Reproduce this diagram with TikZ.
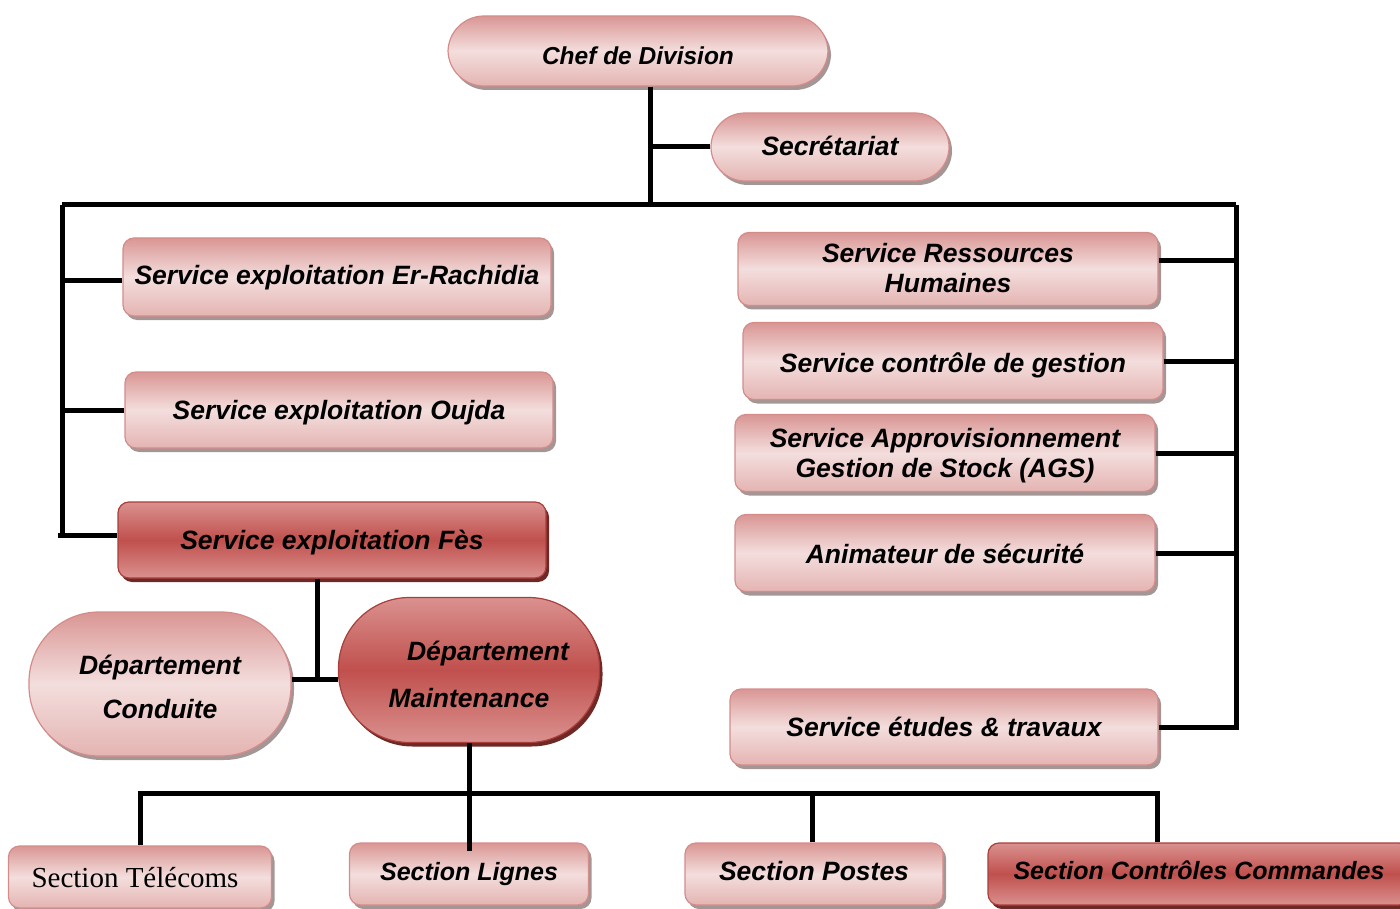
\documentclass[tikz,border=0pt]{standalone}
\usepackage{fontspec}
\setmainfont{Liberation Sans}
\newfontfamily\timesfont{Liberation Serif}
\usetikzlibrary{shadows}

\definecolor{pinkEdge}{RGB}{217,150,148}
\definecolor{pinkLow}{RGB}{228,180,178}
\definecolor{pinkLight}{RGB}{243,222,221}
\definecolor{pinkLine}{RGB}{212,140,138}
\definecolor{redEdge}{RGB}{218,145,143}
\definecolor{redMid}{RGB}{192,80,77}
\definecolor{redLine}{RGB}{170,62,59}
\definecolor{shadowGray}{RGB}{165,150,150}
\definecolor{shadowRed}{RGB}{110,40,38}

% box label: lines centred, last baseline lowered #1 below the box centre
\newcommand\boxtext[2]{\raisebox{-#1}[0pt][0pt]{\begin{tabular}[b]{@{}c@{}}#2\end{tabular}}}

\tikzset{
  basebox/.style={line width=1.2pt, rounded corners=11pt, inner sep=0pt,
    font=\fontsize{26.5}{30}\selectfont\bfseries\itshape},
  lightbox/.style={basebox, draw=pinkLine,
    top color=pinkEdge, bottom color=pinkLow, middle color=pinkLight,
    drop shadow={shadow xshift=3pt, shadow yshift=-4pt, fill=shadowGray, opacity=1}},
  darkbox/.style={basebox, draw=redLine,
    top color=redEdge, bottom color=redEdge, middle color=redMid,
    drop shadow={shadow xshift=3pt, shadow yshift=-4pt, fill=shadowRed, opacity=1}},
  link/.style={line width=5pt, draw=black},
  sectionfont/.style={font=\fontsize{25}{30}\selectfont\bfseries\itshape}
}

\begin{document}
\begin{tikzpicture}[x=1pt,y=-1pt]
\useasboundingbox (0,0) rectangle (1400,909);

% head of the division
\node[lightbox, font=\fontsize{24.5}{30}\selectfont\bfseries\itshape,
  rounded corners=36pt, minimum width=380pt, minimum height=70pt]
  (chef) at (638,51) {\boxtext{14pt}{Chef de Division}};
\node[lightbox, rounded corners=34pt, minimum width=238pt, minimum height=68pt]
  (secr) at (830,147) {\boxtext{9pt}{Secrétariat}};

% operating services (left)
\node[lightbox, minimum width=428pt, minimum height=78pt]
  (erra) at (337,277) {\boxtext{8pt}{Service exploitation Er-Rachidia}};
\node[lightbox, minimum width=428pt, minimum height=76pt]
  (oujda) at (339,410) {\boxtext{9pt}{Service exploitation Oujda}};
\node[darkbox, minimum width=428pt, minimum height=76pt]
  (fes) at (332,540) {\boxtext{9pt}{Service exploitation Fès}};

% support services (right)
\node[lightbox, minimum width=420pt, minimum height=73pt]
  (rh) at (948,269) {\boxtext{24pt}{Service Ressources\\Humaines}};
\node[lightbox, minimum width=420pt, minimum height=77pt]
  (ctrl) at (953,361) {\boxtext{11pt}{Service contrôle de gestion}};
\node[lightbox, minimum width=420pt, minimum height=77pt]
  (ags) at (945,453) {\boxtext{24pt}{Service Approvisionnement\\Gestion de Stock (AGS)}};
\node[lightbox, minimum width=420pt, minimum height=77pt]
  (anim) at (945,553) {\boxtext{10pt}{Animateur de sécurité}};
\node[lightbox, minimum width=428pt, minimum height=76pt]
  (etud) at (944,727) {\boxtext{9pt}{Service études \& travaux}};

% departments under Fès
\node[lightbox, font=\fontsize{26.5}{44}\selectfont\bfseries\itshape,
  rounded corners=70pt, minimum width=262pt, minimum height=144pt]
  (cond) at (160,684) {\boxtext{34pt}{Département\\Conduite}};
\node[darkbox, font=\fontsize{26.5}{46.5}\selectfont\bfseries\itshape,
  rounded corners=71pt, minimum width=261pt, minimum height=145pt]
  (maint) at (469,670) {\boxtext{37pt}{\hspace*{38pt}Département\\Maintenance}};

% sections
\node[lightbox, font=\fontsize{29}{32}\selectfont\timesfont,
  minimum width=263pt, minimum height=62pt]
  (tel) at (140,877) {\boxtext{10pt}{\hspace*{-10pt}Section Télécoms}};
\node[lightbox, sectionfont, minimum width=239pt, minimum height=62pt]
  (lignes) at (469,874) {\boxtext{6pt}{Section Lignes}};
\node[lightbox, font=\fontsize{26.5}{30}\selectfont\bfseries\itshape,
  minimum width=258pt, minimum height=62pt]
  (postes) at (814,874) {\boxtext{6pt}{Section Postes}};
\node[darkbox, sectionfont, minimum width=422pt, minimum height=62pt]
  (cc) at (1199,874) {\boxtext{5pt}{Section Contrôles Commandes}};

% junction points of the connectors
\coordinate (hub) at (650,205);
\coordinate (tl) at (62,205);
\coordinate (tr) at (1236,205);
\coordinate (fj) at (317,679);
\coordinate (bl) at (140,793);
\coordinate (br) at (1157,793);

% top trunk
\draw[link] (hub |- chef.south) -- (hub);
\draw[link] (secr.west) -- (secr.west -| hub);
\draw[link] (tl) -- (tr);

% left branch
\draw[link] (tl) -- ([yshift=5pt]tl |- fes.west) -- ([xshift=-4pt,yshift=5pt]tl |- fes.west)
  -- ([yshift=5pt]fes.west);
\draw[link] ([yshift=-4pt]tl |- erra.west) -- ([yshift=-4pt]erra.west);
\draw[link] (tl |- oujda.west) -- (oujda.west);

% right branch
\draw[link] (tr) -- (tr |- etud.east) -- (etud.east);
\draw[link] ([yshift=8pt]rh.east) -- ([yshift=8pt]rh.east -| tr);
\draw[link] (ctrl.east) -- (ctrl.east -| tr);
\draw[link] (ags.east) -- (ags.east -| tr);
\draw[link] (anim.east) -- (anim.east -| tr);

% departments
\draw[link] (fes.south -| fj) -- (fj);
\draw[link] (fj -| cond.east) -- (fj -| maint.west);

% sections
\draw[link] (maint.south) -- ([yshift=-9pt]lignes.north);
\draw[link] (tel.north) -- (bl) -- (br) -- (cc.north -| br);
\draw[link] ([xshift=-2pt]postes.north) -- ([xshift=-2pt]postes.north |- bl);
\end{tikzpicture}
\end{document}
